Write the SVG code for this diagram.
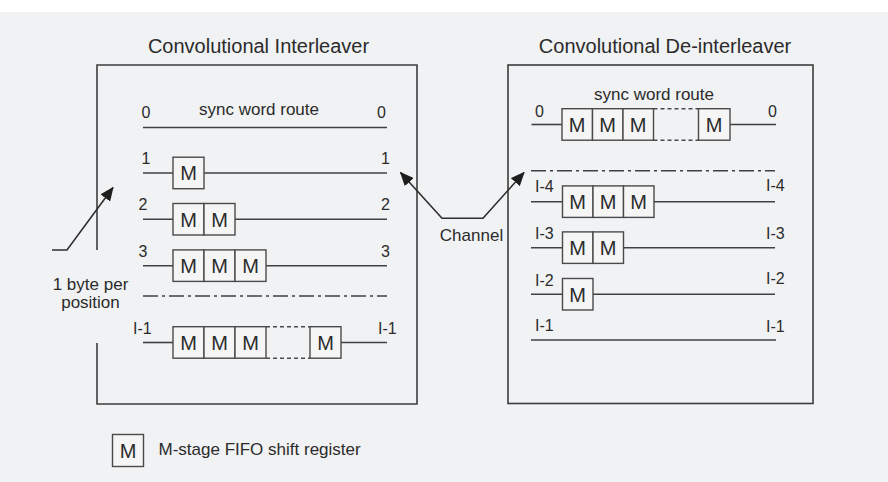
<svg xmlns="http://www.w3.org/2000/svg" width="888" height="482" viewBox="0 0 888 482">
<style>
text{font-family:"Liberation Sans",Arial,sans-serif;fill:#2b2b2b}
.t{font-size:20px}
.l{font-size:16px}
.s{font-size:17px}
.m{font-size:20px;text-anchor:middle}
.frame{fill:none;stroke:#3c3c3c;stroke-width:1.6}
.ln{fill:none;stroke:#404040;stroke-width:1.6}
.dd{fill:none;stroke:#404040;stroke-width:1.6;stroke-dasharray:15 4 3 4}
.cell{fill:#f5f5f6;stroke:#4a4a4a;stroke-width:1.4}
.gap{fill:none;stroke:#4a4a4a;stroke-width:1.4;stroke-dasharray:4 3}
.arr{fill:none;stroke:#2e2e2e;stroke-width:1.6}
</style>
<defs>
<marker id="ah" markerUnits="userSpaceOnUse" markerWidth="14" markerHeight="12" refX="13" refY="6" orient="auto-start-reverse">
<path d="M0,0 L14,6 L0,12 z" fill="#1e1e1e"/>
</marker>
</defs>
<rect width="888" height="482" fill="#f1f2f4"/>
<rect width="888" height="12" fill="#ffffff"/>

<g id="titles">
<text class="t" x="258.5" y="53" text-anchor="middle">Convolutional Interleaver</text>
<text class="t" x="665" y="53" text-anchor="middle">Convolutional De-interleaver</text>
</g>

<g id="interleaver">
<path class="frame" d="M97,250 V65 H417 V404 H97 V343"/>
<text class="s" x="259" y="115" text-anchor="middle">sync word route</text>
<text class="l" x="141.5" y="118">0</text><text class="l" x="377" y="118">0</text>
<text class="l" x="141.5" y="163.5">1</text><text class="l" x="381" y="163.5">1</text>
<text class="l" x="138.5" y="210">2</text><text class="l" x="381" y="210">2</text>
<text class="l" x="138.5" y="256.5">3</text><text class="l" x="381" y="256.5">3</text>
<text class="l" x="133" y="333.5">I-1</text><text class="l" x="378" y="333.5">I-1</text>
</g>

<g id="deinterleaver">
<rect class="frame" x="508" y="65" width="305" height="338.5"/>
<text class="s" x="654" y="100" text-anchor="middle">sync word route</text>
<text class="l" x="535" y="116.5">0</text><text class="l" x="768" y="116.5">0</text>
<text class="l" x="535" y="192">I-4</text><text class="l" x="766" y="191">I-4</text>
<text class="l" x="535" y="239">I-3</text><text class="l" x="766" y="238.5">I-3</text>
<text class="l" x="535" y="286">I-2</text><text class="l" x="766" y="284">I-2</text>
<text class="l" x="535" y="330.5">I-1</text><text class="l" x="766" y="332">I-1</text>
</g>

<g id="connectors">
<line class="ln" x1="143" y1="127.5" x2="387" y2="127.5"/>
<line class="ln" x1="143" y1="173" x2="387" y2="173"/>
<line class="ln" x1="143" y1="219.3" x2="387" y2="219.3"/>
<line class="ln" x1="143" y1="265.7" x2="387" y2="265.7"/>
<line class="dd" x1="143" y1="296" x2="387" y2="296"/>
<line class="ln" x1="143" y1="342.5" x2="173" y2="342.5"/>
<line class="ln" x1="341" y1="342.5" x2="387" y2="342.5"/>
<line class="ln" x1="531.5" y1="124.5" x2="562" y2="124.5"/>
<line class="ln" x1="730" y1="124.5" x2="776" y2="124.5"/>
<line class="dd" x1="531" y1="170.7" x2="775" y2="170.7"/>
<line class="ln" x1="531" y1="201.7" x2="775" y2="201.7"/>
<line class="ln" x1="531" y1="247.7" x2="775" y2="247.7"/>
<line class="ln" x1="531" y1="294.3" x2="775" y2="294.3"/>
<line class="ln" x1="531" y1="340" x2="776" y2="340"/>
<path class="arr" d="M52,250 H67 L113,187.5" marker-end="url(#ah)"/>
<path class="arr" d="M400.5,172.5 L442,218.3 H483 L524,172.5" marker-start="url(#ah)" marker-end="url(#ah)"/>
</g>

<g id="channel-label">
<text class="s" x="471.5" y="240.5" text-anchor="middle">Channel</text>
</g>
<g id="byte-label">
<text class="s" x="90.5" y="290" text-anchor="middle">1 byte per</text>
<text class="s" x="90.5" y="308" text-anchor="middle">position</text>
</g>

<g id="il-row1">
<rect class="cell" x="173" y="157.2" width="31" height="31.5"/>
<text class="m" x="188.5" y="180.2">M</text>
</g>
<g id="il-row2">
<rect class="cell" x="173" y="203.5" width="31" height="31.5"/>
<rect class="cell" x="204" y="203.5" width="31" height="31.5"/>
<text class="m" x="188.5" y="226.5">M</text><text class="m" x="219.5" y="226.5">M</text>
</g>
<g id="il-row3">
<rect class="cell" x="173" y="249.9" width="31" height="31.5"/>
<rect class="cell" x="204" y="249.9" width="31" height="31.5"/>
<rect class="cell" x="235" y="249.9" width="31" height="31.5"/>
<text class="m" x="188.5" y="272.9">M</text><text class="m" x="219.5" y="272.9">M</text><text class="m" x="250.5" y="272.9">M</text>
</g>
<g id="il-rowI-1">
<rect class="cell" x="173" y="326.7" width="31" height="31.5"/>
<rect class="cell" x="204" y="326.7" width="31" height="31.5"/>
<rect class="cell" x="235" y="326.7" width="31" height="31.5"/>
<line class="gap" x1="266" y1="326.7" x2="310" y2="326.7"/>
<line class="gap" x1="266" y1="358.2" x2="310" y2="358.2"/>
<rect class="cell" x="310" y="326.7" width="31" height="31.5"/>
<text class="m" x="188.5" y="349.7">M</text><text class="m" x="219.5" y="349.7">M</text><text class="m" x="250.5" y="349.7">M</text><text class="m" x="325.5" y="349.7">M</text>
</g>

<g id="de-row0">
<rect class="cell" x="562" y="108.7" width="30.5" height="31.5"/>
<rect class="cell" x="592.5" y="108.7" width="30.5" height="31.5"/>
<rect class="cell" x="623" y="108.7" width="30.5" height="31.5"/>
<line class="gap" x1="653.5" y1="108.7" x2="698.5" y2="108.7"/>
<line class="gap" x1="653.5" y1="140.2" x2="698.5" y2="140.2"/>
<rect class="cell" x="698.5" y="108.7" width="31.5" height="31.5"/>
<text class="m" x="577.2" y="131.7">M</text><text class="m" x="607.7" y="131.7">M</text><text class="m" x="638.2" y="131.7">M</text><text class="m" x="714.2" y="131.7">M</text>
</g>
<g id="de-rowI-4">
<rect class="cell" x="562.5" y="185.9" width="30.5" height="31.5"/>
<rect class="cell" x="593" y="185.9" width="30.5" height="31.5"/>
<rect class="cell" x="623.5" y="185.9" width="30.5" height="31.5"/>
<text class="m" x="577.7" y="208.9">M</text><text class="m" x="608.2" y="208.9">M</text><text class="m" x="638.7" y="208.9">M</text>
</g>
<g id="de-rowI-3">
<rect class="cell" x="562.5" y="231.9" width="30.5" height="31.5"/>
<rect class="cell" x="593" y="231.9" width="30.5" height="31.5"/>
<text class="m" x="577.7" y="254.9">M</text><text class="m" x="608.2" y="254.9">M</text>
</g>
<g id="de-rowI-2">
<rect class="cell" x="562.5" y="278.5" width="30.5" height="31.5"/>
<text class="m" x="577.7" y="301.5">M</text>
</g>

<g id="legend">
<rect class="cell" x="112.5" y="434.5" width="31" height="32"/>
<text class="m" x="128" y="457.5">M</text>
<text class="s" x="158.5" y="455">M-stage FIFO shift register</text>
</g>
</svg>
